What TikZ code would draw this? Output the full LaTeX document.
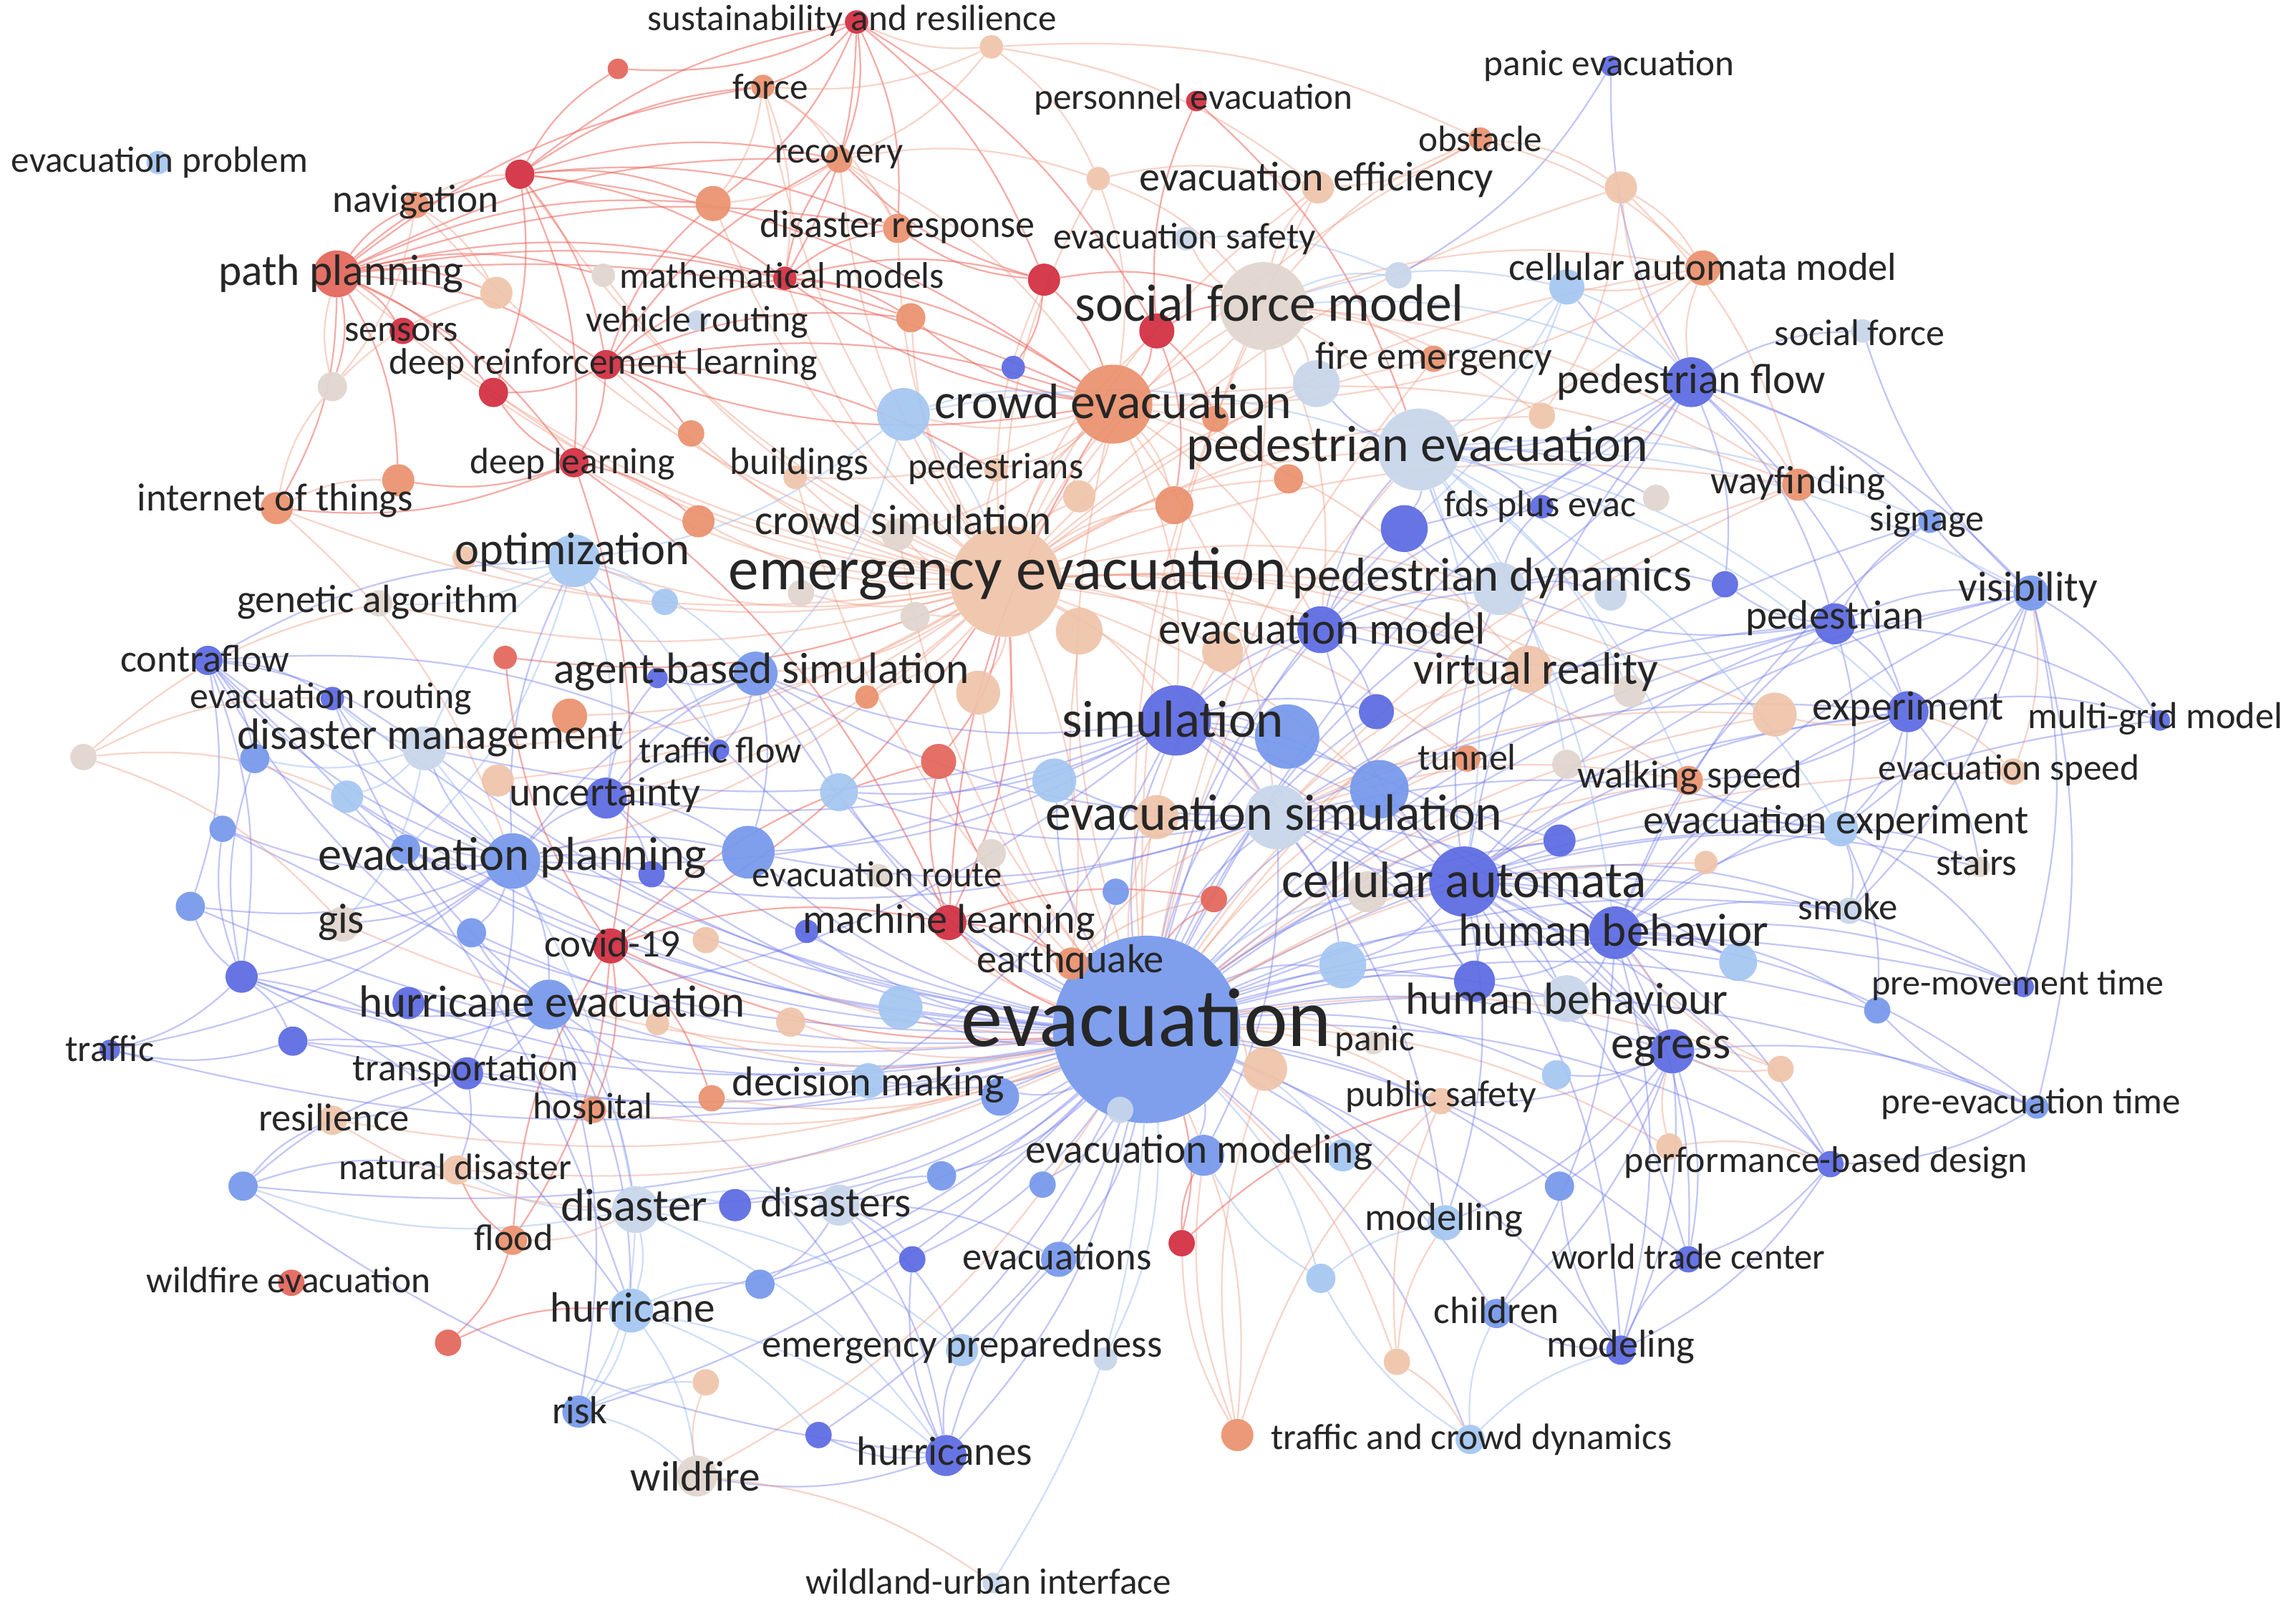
\documentclass[tikz,border=0pt]{standalone}
\usepackage{fontspec}
\setmainfont{Carlito}
\definecolor{B1}{RGB}{92,106,226}
\definecolor{B2}{RGB}{118,152,236}
\definecolor{B3}{RGB}{164,198,242}
\definecolor{B4}{RGB}{200,214,234}
\definecolor{NN}{RGB}{224,214,206}
\definecolor{O1}{RGB}{239,196,170}
\definecolor{O2}{RGB}{234,146,110}
\definecolor{R1}{RGB}{228,102,90}
\definecolor{R2}{RGB}{210,46,64}
\definecolor{ER}{RGB}{238,104,96}
\definecolor{EO}{RGB}{240,160,136}
\definecolor{EB}{RGB}{104,114,236}
\definecolor{EL}{RGB}{150,182,242}
\pgfdeclarelayer{bg}
\pgfdeclarelayer{edges}
\pgfdeclarelayer{labels}
\pgfsetlayers{bg,edges,main,labels}
\tikzset{
  dot/.style={circle,inner sep=0pt,draw=none,fill opacity=.93},
  lab/.style={text=black!85,inner sep=0pt,anchor=center},
  eb/.style={draw=EB,draw opacity=.40,line width=1.1pt,bend left=14},
  el/.style={draw=EL,draw opacity=.45,line width=1.1pt,bend left=14},
  eo/.style={draw=EO,draw opacity=.45,line width=1.1pt,bend left=14},
  er/.style={draw=ER,draw opacity=.55,line width=1.1pt,bend left=14},
}
\newcommand\kw[9]{%
  \node[dot,fill=#5,minimum size=#4*2pt] (#1) at (#2,#3) {};
  \begin{pgfonlayer}{labels}\node[lab,font=\fontsize{#6}{#6}\selectfont] (#1l) at (#7,#8) {#9};\end{pgfonlayer}}
\newcommand\ku[5]{\node[dot,fill=#5,minimum size=#4*2pt] (#1) at (#2,#3) {};}
\newcommand\ed[3]{\foreach \t in {#3}{\draw[#1] (#2) to (\t);}}
\begin{document}
\begin{tikzpicture}[x=1pt,y=-1pt]
\useasboundingbox (0,0) rectangle (1568,1098);
\begin{pgfonlayer}{bg}\fill[white] (0,0) rectangle (1568,1098);\end{pgfonlayer}
% ---------- labelled keywords
\kw{evac}{783}{703}{64}{B2}{57}{783}{695}{evacuation}
\kw{emev}{687}{397}{38}{O1}{41.6}{688}{392}{emergency evacuation}
\kw{sfm}{863}{209}{30}{NN}{36}{867}{207}{social force model}
\kw{pedev}{969}{307}{28}{B4}{35}{968}{306}{pedestrian evacuation}
\kw{crowdev}{760}{276}{27}{O2}{34}{760}{274}{crowd evacuation}
\kw{sar}{585}{15}{8}{R2}{25}{582}{14}{sustainability and resilience}
\kw{force}{521}{59}{8}{O2}{25}{526}{59}{force}
\kw{pev}{817}{69}{7}{R2}{25}{815}{68}{personnel evacuation}
\kw{recov}{573}{109}{9}{O2}{25}{573}{107}{recovery}
\kw{eprob}{108}{111}{8}{B3}{25}{109}{111}{evacuation problem}
\kw{obst}{1011}{95}{8}{O2}{25}{1011}{95}{obstacle}
\kw{pane}{1100}{45}{7}{B1}{25}{1099}{45}{panic evacuation}
\kw{effic}{900}{128}{11}{O1}{28.4}{899}{123}{evacuation efficiency}
\kw{nav}{284}{140}{9}{O2}{27}{284}{138}{navigation}
\kw{dresp}{613}{156}{10}{O2}{26.5}{613}{155}{disaster response}
\kw{esafe}{810}{163}{8}{B4}{25.3}{809}{163}{evacuation safety}
\kw{math}{536}{190}{8}{R2}{25.3}{534}{188}{mathematical models}
\kw{pathp}{230}{187}{16}{R1}{30}{233}{187}{path planning}
\kw{camodel}{1163}{183}{12}{O2}{26.7}{1163}{182}{cellular automata model}
\kw{sensors}{275}{226}{9}{R2}{25.4}{274}{227}{sensors}
\kw{vroute}{476}{219}{7}{B4}{25.3}{476}{220}{vehicle routing}
\kw{sforce}{1272}{226}{8}{B4}{25.4}{1270}{227}{social force}
\kw{drl}{414}{249}{10}{R2}{25.2}{412}{249}{deep reinforcement learning}
\kw{fireem}{979}{245}{9}{O2}{26.6}{979}{245}{fire emergency}
\kw{pedflow}{1155}{261}{17}{B1}{29}{1155}{261}{pedestrian flow}
\kw{dlearn}{392}{316}{10}{R2}{25.1}{391}{317}{deep learning}
\kw{build}{543}{326}{8}{O1}{26}{546}{317}{buildings}
\kw{peds}{680}{321}{8}{O1}{25.3}{680}{320}{pedestrians}
\kw{wayf}{1228}{331}{11}{O2}{27}{1228}{330}{wayfinding}
\kw{iot}{189}{347}{11}{O2}{26.8}{188}{342}{internet of things}
\kw{fds}{1053}{346}{8}{B1}{25.4}{1052}{346}{fds plus evac}
\kw{signage}{1318}{356}{8}{B2}{25.5}{1316}{356}{signage}
\kw{crowdsim}{613}{365}{11}{NN}{29}{617}{355}{crowd simulation}
\kw{optim}{392}{383}{18}{B3}{31.5}{391}{377}{optimization}
\kw{peddyn}{1024}{402}{18}{B4}{32.5}{1019}{395}{pedestrian dynamics}
\kw{visib}{1387}{405}{12}{B2}{28.8}{1385}{403}{visibility}
\kw{genalg}{259}{412}{9}{NN}{27}{258}{411}{genetic algorithm}
\kw{pedn}{1253}{426}{14}{B1}{28}{1253}{422}{pedestrian}
\kw{evmodel}{902}{430}{16}{B1}{30.8}{903}{429}{evacuation model}
\kw{contra}{142}{451}{10}{B1}{26.5}{140}{450}{contraflow}
\kw{vr}{1044}{457}{16}{O1}{31}{1049}{459}{virtual reality}
\kw{abs}{516}{460}{15}{B2}{30}{520}{459}{agent-based simulation}
\kw{eroute}{227}{477}{8}{B1}{25.3}{226}{477}{evacuation routing}
\kw{exper}{1303}{486}{14}{B1}{28}{1303}{484}{experiment}
\kw{sim}{803}{492}{24}{B1}{35.6}{801}{491}{simulation}
\kw{mgrid}{1475}{492}{7}{B1}{25.6}{1472}{491}{multi-grid model}
\kw{dman}{290}{511}{15}{B4}{30}{294}{504}{disaster management}
\kw{tflow}{491}{512}{7}{B1}{25.5}{492}{512}{traffic flow}
\kw{tunnel}{1002}{518}{9}{O2}{25.4}{1002}{517}{tunnel}
\kw{walk}{1153}{533}{10}{O2}{26.7}{1154}{531}{walking speed}
\kw{espeed}{1375}{527}{9}{O1}{25.1}{1372}{526}{evacuation speed}
\kw{uncert}{414}{545}{14}{B1}{28}{413}{543}{uncertainty}
\kw{evsim}{872}{558}{22}{B4}{35}{870}{555}{evacuation simulation}
\kw{eexp}{1257}{566}{12}{B3}{28.2}{1254}{562}{evacuation experiment}
\kw{eplan}{350}{588}{19}{B2}{32.5}{350}{586}{evacuation planning}
\kw{stairs}{1352}{592}{7}{NN}{25.8}{1350}{589}{stairs}
\kw{erout}{600}{598}{8}{NN}{24.8}{599}{597}{evacuation route}
\kw{ca}{1000}{602}{24}{B1}{35}{1000}{601}{cellular automata}
\kw{smoke}{1263}{622}{9}{B4}{25.8}{1262}{619}{smoke}
\kw{gis}{234}{631}{12}{NN}{29}{233}{630}{gis}
\kw{ml}{648}{630}{12}{R2}{28.5}{648}{630}{machine learning}
\kw{hb}{1103}{637}{18}{B1}{31.8}{1102}{635}{human behavior}
\kw{covid}{417}{646}{12}{R2}{26.8}{418}{644}{covid-19}
\kw{eq}{732}{658}{11}{O2}{27.6}{731}{657}{earthquake}
\kw{pmt}{1382}{674}{7}{B1}{24.5}{1378}{673}{pre-movement time}
\kw{hurrev}{375}{686}{17}{B2}{30.8}{377}{684}{hurricane evacuation}
\kw{hbour}{1070}{682}{16}{B4}{30.7}{1070}{682}{human behaviour}
\kw{panic}{938}{712}{8}{NN}{25}{939}{711}{panic}
\kw{egress}{1142}{718}{15}{B1}{31.6}{1141}{718}{egress}
\kw{traffic}{75}{717}{7}{B1}{25.6}{75}{716}{traffic}
\kw{transp}{319}{733}{11}{B1}{26.3}{318}{731}{transportation}
\kw{dmaking}{593}{738}{12}{B3}{28.5}{593}{741}{decision making}
\kw{pubsafe}{984}{752}{9}{O1}{25.5}{984}{749}{public safety}
\kw{preev}{1391}{756}{8}{B2}{25}{1387}{754}{pre-evacuation time}
\kw{hospital}{405}{758}{9}{O2}{25.3}{405}{757}{hospital}
\kw{resil}{227}{765}{10}{O1}{26.7}{228}{763}{resilience}
\kw{emodeling}{822}{789}{14}{B2}{28}{819}{787}{evacuation modeling}
\kw{pbd}{1250}{795}{9}{B1}{25.4}{1247}{794}{performance-based design}
\kw{natdis}{312}{799}{10}{O1}{25.2}{311}{797}{natural disaster}
\kw{disaster}{434}{826}{16}{B4}{31.6}{433}{823}{disaster}
\kw{disasters}{573}{823}{14}{B4}{29}{571}{821}{disasters}
\kw{modelling}{987}{835}{12}{B3}{26.8}{986}{833}{modelling}
\kw{flood}{350}{847}{10}{O2}{25.5}{351}{845}{flood}
\kw{evacs}{723}{860}{12}{B2}{26.7}{722}{858}{evacuations}
\kw{wtc}{1153}{860}{9}{B1}{24.7}{1153}{858}{world trade center}
\kw{wildev}{199}{876}{9}{R1}{25.1}{197}{874}{wildfire evacuation}
\kw{hurricane}{431}{895}{15}{B3}{29}{432}{893}{hurricane}
\kw{children}{1022}{897}{10}{B2}{26}{1022}{895}{children}
\kw{eprep}{657}{922}{11}{B3}{26.7}{657}{920}{emergency preparedness}
\kw{modeling}{1107}{922}{10}{B1}{26.6}{1107}{920}{modeling}
\kw{risk}{395}{964}{11}{B2}{26.7}{396}{963}{risk}
\kw{tcd}{1004}{983}{10}{B3}{25.1}{1005}{983}{traffic and crowd dynamics}
\kw{hurricanes}{646}{994}{14}{B1}{28}{645}{991}{hurricanes}
\kw{wildfire}{476}{1008}{14}{NN}{29}{475}{1008}{wildfire}
\kw{wui}{678}{1081}{7}{B4}{25}{675}{1080}{wildland-urban interface}
% ---------- unlabelled keywords
\ku{u422}{422}{47}{7}{R1}
\ku{u677a}{677}{32}{8}{O1}
\ku{u750}{750}{122}{8}{O1}
\ku{u1107}{1107}{128}{11}{O1}
\ku{u713}{713}{191}{11}{R2}
\ku{u412}{412}{188}{8}{NN}
\ku{u790a}{790}{226}{12}{R2}
\ku{u955}{955}{188}{9}{B4}
\ku{u1070a}{1070}{196}{12}{B3}
\ku{u899}{899}{262}{16}{B4}
\ku{u830}{830}{286}{9}{O2}
\ku{u692}{692}{251}{8}{B1}
\ku{u617}{617}{283}{18}{B3}
\ku{u622}{622}{217}{10}{O2}
\ku{u880}{880}{327}{10}{O2}
\ku{u802}{802}{345}{13}{O2}
\ku{u737a}{737}{339}{11}{O1}
\ku{u959}{959}{361}{16}{B1}
\ku{u1131}{1131}{340}{9}{NN}
\ku{u1053}{1053}{284}{9}{O1}
\ku{u355}{355}{119}{10}{R2}
\ku{u487}{487}{139}{12}{O2}
\ku{u339}{339}{200}{11}{O1}
\ku{u337}{337}{268}{10}{R2}
\ku{u227}{227}{264}{10}{NN}
\ku{u472}{472}{296}{9}{O2}
\ku{u272}{272}{328}{11}{O2}
\ku{u477}{477}{356}{11}{O2}
\ku{u317}{317}{381}{8}{O1}
\ku{u454}{454}{411}{9}{B3}
\ku{u345}{345}{449}{8}{R1}
\ku{u449a}{449}{463}{7}{B1}
\ku{u389}{389}{489}{12}{O2}
\ku{u174}{174}{518}{10}{B2}
\ku{u57}{57}{517}{9}{NN}
\ku{u340}{340}{533}{11}{O1}
\ku{u237}{237}{544}{11}{B3}
\ku{u152}{152}{566}{9}{B2}
\ku{u277}{277}{580}{10}{B2}
\ku{u445}{445}{597}{9}{B1}
\ku{u511}{511}{582}{18}{B2}
\ku{u130}{130}{619}{10}{B2}
\ku{u322}{322}{637}{10}{B2}
\ku{u482a}{482}{642}{9}{O1}
\ku{u165}{165}{667}{11}{B1}
\ku{u279}{279}{685}{11}{B1}
\ku{u449b}{449}{699}{8}{O1}
\ku{u200}{200}{711}{10}{B1}
\ku{u486}{486}{750}{9}{O2}
\ku{u166}{166}{810}{10}{B2}
\ku{u502}{502}{823}{11}{B1}
\ku{u306}{306}{917}{9}{R1}
\ku{u519}{519}{877}{10}{B2}
\ku{u482b}{482}{944}{9}{O1}
\ku{u683}{683}{749}{13}{B2}
\ku{u765}{765}{758}{9}{B4}
\ku{u917b}{917}{789}{11}{B3}
\ku{u643}{643}{803}{10}{B2}
\ku{u712}{712}{809}{9}{B2}
\ku{u623}{623}{860}{9}{B1}
\ku{u807}{807}{849}{9}{R2}
\ku{u902}{902}{873}{10}{B3}
\ku{u755}{755}{928}{8}{B4}
\ku{u559}{559}{980}{9}{B1}
\ku{u845}{845}{980}{11}{O2}
\ku{u954}{954}{930}{9}{O1}
\ku{u835}{835}{445}{14}{O1}
\ku{u737b}{737}{431}{16}{O1}
\ku{u625}{625}{421}{10}{NN}
\ku{u547}{547}{405}{9}{NN}
\ku{u592}{592}{476}{8}{O2}
\ku{u668}{668}{473}{15}{O1}
\ku{u879}{879}{503}{22}{B2}
\ku{u940}{940}{486}{12}{B1}
\ku{u641}{641}{520}{12}{R1}
\ku{u720}{720}{533}{15}{B3}
\ku{u573}{573}{541}{13}{B3}
\ku{u790b}{790}{558}{15}{O1}
\ku{u942}{942}{539}{20}{B2}
\ku{u677b}{677}{583}{10}{NN}
\ku{u762}{762}{609}{9}{B2}
\ku{u829}{829}{614}{9}{R1}
\ku{u934}{934}{609}{14}{NN}
\ku{u551}{551}{636}{8}{B1}
\ku{u615}{615}{688}{15}{B3}
\ku{u540}{540}{698}{10}{O1}
\ku{u917a}{917}{659}{16}{B3}
\ku{u1007}{1007}{670}{14}{B1}
\ku{u1187}{1187}{657}{13}{B3}
\ku{u864}{864}{730}{15}{O1}
\ku{u1216}{1216}{730}{9}{O1}
\ku{u1063}{1063}{734}{10}{B3}
\ku{u1065b}{1065}{810}{10}{B2}
\ku{u1140}{1140}{783}{9}{O1}
\ku{u1282}{1282}{690}{9}{B2}
\ku{u1165}{1165}{589}{8}{O1}
\ku{u1065a}{1065}{574}{11}{B1}
\ku{u1070b}{1070}{522}{10}{NN}
\ku{u1212}{1212}{488}{15}{O1}
\ku{u1113}{1113}{472}{11}{NN}
\ku{u1178}{1178}{399}{9}{B1}
\ku{u1100}{1100}{406}{11}{B4}
% ---------- links
\begin{pgfonlayer}{edges}
\ed{eb}{evac}{sim,ca,hb,hbour,egress,eplan,hurrev,dmaking,disaster,disasters,evacs,emodeling,modelling,children,modeling,wtc,pbd,preev,pmt,hurricanes,eprep,hurricane,risk,transp,uncert,abs,dman,optim,contra,eroute,peddyn,evmodel,pedn,exper,visib,eexp,smoke,pedflow,evsim,u942,u879,u917a,u1007,u1187,u615,u511,u445,u573,u720,u762,u683,u643,u712,u623,u559,u1065b,u1282,u1063,u165,u200,u166,u130,u152,traffic,tcd,u940,u959,u1065a,signage,u551,u502,u519,u277,u322,u279,u174,u237}
\ed{eo}{evac}{emev,crowdev,pedev,sfm,eq,walk,gis,u864,u540,u482a,u486,pubsafe,u845,wildfire,vr,u1216,u1140,u954,hospital,resil,natdis,tunnel,u790b,u668,u737b,u835,erout,panic,u677b,crowdsim,build,effic,fireem,wayf,u1212,espeed,u1165,u449b}
\ed{er}{evac}{covid,ml,u829,u641,u807}
\ed{el}{evac}{wui,u755,u765,u917b,u902,u934}
\ed{eo}{emev}{crowdev,sfm,pathp,nav,drl,dlearn,sensors,math,dresp,recov,force,iot,crowdsim,build,peds,vr,wayf,camodel,fireem,evmodel,tunnel,eq,u737a,u835,u668,u802,u880,u487,u355,u337,u622,u790a,u713,u1212,u1107,u750,u472,u477,u389,u340,u592,u625,u547,genalg,optim,abs,dman,eplan,uncert,sim,evsim,ca,pedev,peddyn,u1053,u1113,effic,obst,walk,u317,u412}
\ed{er}{emev}{covid,ml,u641,u345}
\ed{eo}{crowdev}{sim,evmodel,vr,u802,u880,u737a,peds,build,crowdsim,u617,evsim,wayf}
\ed{er}{crowdev}{math,drl,u622}
\ed{er}{pathp}{nav,sensors,drl,u355,u487,u337,math,dlearn,iot,u227,u339,crowdev,u272,force,recov,dresp,u412,u622}
\ed{er}{u355}{force,recov,sar,drl,u337,dlearn,math,u487,crowdev,u422,dresp}
\ed{er}{sar}{force,recov,u422,dresp,u487,u713,u790a,math}
\ed{eo}{u677a}{sar,effic,u750,force,recov,obst}
\ed{er}{drl}{math,dlearn,u337,crowdev,u487,recov,u472,u622,peds}
\ed{er}{dlearn}{u337,ml,covid,iot,u477,u272}
\ed{er}{math}{dresp,recov,crowdev,u713,u622}
\ed{er}{u713}{crowdev,sfm,recov,dresp,u692}
\ed{er}{u790a}{crowdev,pev,sfm,u830,u802}
\ed{er}{pev}{pedev}
\ed{er}{covid}{ml,hospital,flood,u486,u641,u345}
\ed{er}{ml}{u641,eq,crowdev,u829}
\ed{er}{u807}{emodeling,pubsafe}
\ed{er}{flood}{u306,natdis,covid}
\ed{er}{u306}{hurricane}
\ed{eo}{force}{recov,u487,dresp,math}
\ed{eo}{nav}{u339,u355,u227}
\ed{eo}{iot}{u227,u272,eplan}
\ed{eo}{u227}{u339,pathp}
\ed{eo}{recov}{dresp,crowdev,u487,u750}
\ed{eo}{u750}{effic,crowdev,sfm}
\ed{eb}{ca}{hb,hbour,egress,pedn,exper,eexp,smoke,walk,pedflow,peddyn,evmodel,sim,evsim,u942,u1065a,u1007,visib,pmt,stairs,modelling,pbd,wtc,modeling,u1187,u917a,u934}
\ed{eb}{hb}{egress,pedn,exper,eexp,smoke,pbd,wtc,modeling,pmt,preev,u1282,u1187,visib,mgrid,signage,children,hbour,u1007}
\ed{eb}{egress}{pbd,wtc,modeling,preev,u1065b,children,modelling,pubsafe,u1063}
\ed{eb}{pedflow}{pane,sforce,pedev,peddyn,pedn,signage,visib,u1070a,u959,exper,u1178,fds}
\ed{eo}{pedflow}{camodel,u1107,wayf}
\ed{eb}{pedn}{visib,exper,signage,mgrid,u1178,peddyn,eexp,evmodel}
\ed{eb}{visib}{exper,mgrid,signage,smoke,pmt,sforce,eexp,preev}
\ed{eo}{visib}{espeed}
\ed{eb}{exper}{eexp,mgrid,walk,stairs,smoke}
\ed{eo}{exper}{espeed,u1212}
\ed{eb}{eexp}{smoke,stairs,pmt,walk,u1282}
\ed{eb}{preev}{pbd,u1282}
\ed{eb}{pbd}{wtc,modeling}
\ed{eb}{modeling}{wtc,u1065b,children}
\ed{eb}{sim}{evsim,evmodel,u942,u879,u940,abs,peddyn,u1007,eplan,uncert,hurrev,dman,u511,u573,dmaking,hb,egress}
\ed{eb}{evsim}{hb,egress,eexp,pedn,exper,u1065a,u1007,emodeling,modelling,u917a,eplan,abs,u511,u720,u573}
\ed{eo}{evsim}{vr,walk,tunnel,u1212,wayf}
\ed{el}{pedev}{hb,ca,exper,eexp,walk,signage,visib,pedn,u1070b,u1113}
\ed{eb}{evmodel}{peddyn,pedev,u959,u940,vr,fds}
\ed{eb}{peddyn}{pedev,u959,fds,u1100,u1178}
\ed{eb}{pedev}{u959,u899,fds,u1131}
\ed{eo}{sfm}{crowdev,pedev,fireem,camodel,effic,obst,esafe,u899,u1053,sim,evmodel,wayf}
\ed{el}{sfm}{u955,u1070a,pedflow}
\ed{el}{esafe}{u955}
\ed{eb}{pane}{u955}
\ed{eo}{obst}{effic,camodel,u1107}
\ed{eo}{u1107}{camodel,u1053,wayf}
\ed{eo}{camodel}{u1070a,pedev,crowdev}
\ed{el}{u1070a}{pedflow,pedev,fireem,u959}
\ed{eb}{eplan}{hurrev,uncert,dman,optim,contra,eroute,gis,transp,u511,u277,u322,u237,u152,u130,u165,traffic,abs,u445}
\ed{eb}{hurrev}{hurricane,hurricanes,transp,u279,u165,u200,disaster,risk,eroute,contra,u322}
\ed{eb}{contra}{eroute,dman,u174,u165,hurricane,tflow,optim,u130}
\ed{el}{dman}{u174,u237,eroute,disaster,optim,gis}
\ed{el}{disaster}{disasters,hurricane,risk,u502,natdis,u166,hurricanes,eprep}
\ed{eo}{disaster}{resil,flood}
\ed{eb}{disasters}{eprep,hurricanes,u623,evacs,u519,u643}
\ed{el}{hurricane}{risk,wildfire,hurricanes,u519,u559}
\ed{eb}{hurricanes}{u559,eprep,evacs,wildfire,u623,u166}
\ed{eb}{u165}{traffic,u200,u130,u152,transp,hurricane,u174}
\ed{eb}{u200}{traffic,transp}
\ed{eb}{u166}{resil,natdis,transp}
\ed{el}{risk}{wildfire,u482b}
\ed{eo}{wildfire}{wui,u482b}
\ed{el}{optim}{abs,u454,genalg,u277,uncert,tflow,u317}
\ed{eb}{uncert}{tflow,abs,u511,u445,u449a}
\ed{eb}{transp}{hospital,resil,natdis}
\ed{eo}{u57}{genalg,gis,eroute,u237}
\ed{eb}{abs}{u449a,tflow,u573,u511}
\ed{el}{u617}{optim,abs,crowdev,emev,pedev}
\ed{eo}{u845}{u864,pubsafe,u807,emodeling}
\ed{eo}{u954}{pubsafe,modelling,tcd}
\ed{el}{tcd}{children,modeling,u902}
\ed{el}{u902}{emodeling,modelling}
\ed{eo}{eq}{evsim,u829}
\ed{eo}{u1216}{egress,hb}
\ed{eo}{u1140}{egress,pbd}
\end{pgfonlayer}
\end{tikzpicture}
\end{document}
